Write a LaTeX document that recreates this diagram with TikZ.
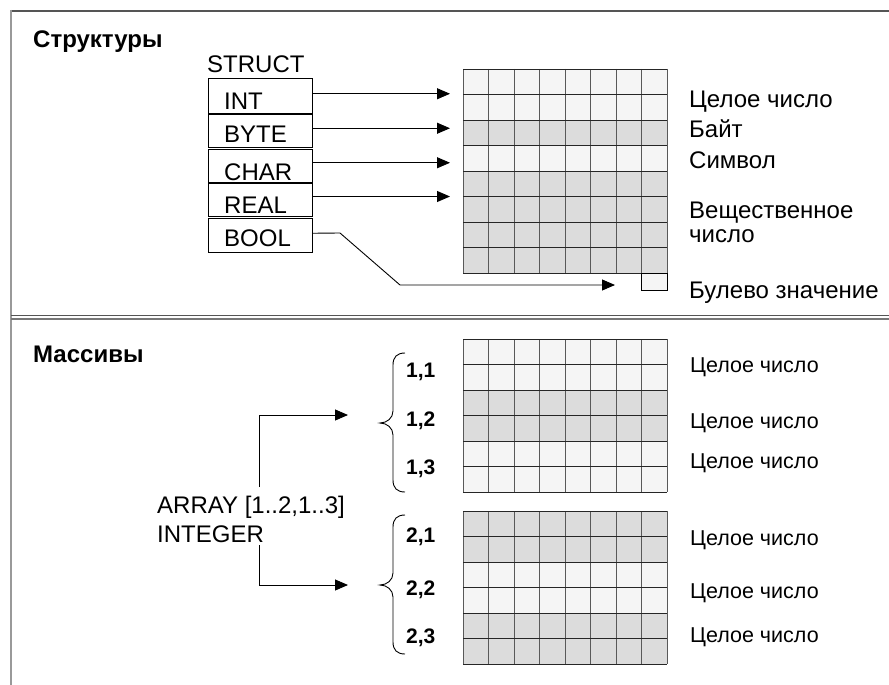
\documentclass[tikz,border=0pt]{standalone}
\usepackage{fontspec}
\setmainfont{Liberation Sans}
\usetikzlibrary{arrows.meta}
\definecolor{cl}{HTML}{F5F5F5}
\definecolor{cg}{HTML}{DCDCDC}
\definecolor{fr}{HTML}{555555}
\definecolor{fl}{HTML}{999999}
\begin{document}
\begin{tikzpicture}[x=1pt,y=-1pt,
  lbl/.style={anchor=base west, inner sep=0pt, font=\fontsize{24}{28}\selectfont},
  lbls/.style={anchor=base west, inner sep=0pt, font=\fontsize{21.5}{25}\selectfont},
  ttl/.style={anchor=base west, inner sep=0pt, font=\fontsize{24}{28}\selectfont\bfseries},
  idx/.style={anchor=base west, inner sep=0pt, font=\fontsize{21}{25}\selectfont\bfseries},
  fld/.style={draw, line width=1pt, minimum width=104pt, anchor=north west, inner sep=0pt, outer sep=0pt},
  arrow/.style={line width=0.9pt, -{Triangle[length=13pt,width=11pt]}},
  hl/.style={line width=0.9pt, color=black!85},
  vl/.style={line width=0.9pt, color=black!65},
]
\useasboundingbox (0,0) rectangle (889,685);
% frame
\draw[fr, line width=2pt] (10,11) -- (889,11);
\draw[fl, line width=2pt] (11,10) -- (11,685);
\draw[fr, line width=1.5pt] (11,315.5) -- (889,315.5);
\draw[fr!80, line width=1.3pt] (11,319) -- (889,319);

% titles
\node[ttl] (t1) at (33,48) {Структуры};
\node[ttl] (t2) at (33,362) {Массивы};

% struct
\node[lbl] (st) at (207,73) {STRUCT};
\node[fld, minimum height=34.5pt] (int)  at (208,79) {};
\node[fld, minimum height=32.5pt] (byte) at (208,114.5) {};
\node[fld, minimum height=32.5pt] (char) at (208,149.5) {};
\node[fld, minimum height=33pt]   (real) at (208,183) {};
\node[fld, minimum height=33.5pt] (bool) at (208,218.5) {};
\node[lbl] (tint)  at (224,110) {INT};
\node[lbl] (tbyte) at (224,142) {BYTE};
\node[lbl] (tchar) at (224,180) {CHAR};
\node[lbl] (treal) at (224,213) {REAL};
\node[lbl] (tbool) at (224,246) {BOOL};

% top grid
\foreach \c [count=\i from 0] in {cl,cl,cg,cl,cg,cg,cg,cg}
  \fill[\c] (463,{69+25.5*\i}) rectangle (667,{69+25.5*(\i+1)});
\foreach \i in {0,...,8} \draw[vl] ({463+25.5*\i},69) -- ({463+25.5*\i},273);
\foreach \j in {0,...,8} \draw[hl] (463,{69+25.5*\j}) -- (667,{69+25.5*\j});
\node[draw, line width=0.9pt, fill=cl, anchor=north west, minimum width=26pt, minimum height=17pt, inner sep=0pt] (bc) at (641,272.5) {};

\coordinate (tip) at (450,0);
\draw[arrow] ([yshift=2.5pt]int.east)  -- ([yshift=2.5pt]int.east -| tip);
\draw[arrow] ([yshift=2.5pt]byte.east) -- ([yshift=2.5pt]byte.east -| tip);
\draw[arrow] ([yshift=3pt]char.east) -- ([yshift=3pt]char.east -| tip);
\draw[arrow] ([yshift=3pt]real.east) -- ([yshift=3pt]real.east -| tip);
\coordinate (bk1) at (340,233);
\coordinate (bk2) at (400,285);
\coordinate (btip) at (615,285);
\draw[arrow] ([yshift=2pt]bool.east) -- (bk1) -- (bk2) -- (btip);

% top labels
\node[lbl] (l1) at (689,107) {Целое число};
\node[lbl] (l2) at (689,137) {Байт};
\node[lbl] (l3) at (689,168) {Символ};
\node[lbl] (l4) at (689,218) {Вещественное};
\node[lbl] (l5) at (689,242) {число};
\node[lbl] (l6) at (689,298) {Булево значение};

% bottom grids
\foreach \c [count=\i from 0] in {cl,cl,cg,cg,cl,cl}
  \fill[\c] (463,{339+25.5*\i}) rectangle (667,{339+25.5*(\i+1)});
\foreach \i in {0,...,8} \draw[vl] ({463+25.5*\i},339) -- ({463+25.5*\i},492);
\foreach \j in {0,...,6} \draw[hl] (463,{339+25.5*\j}) -- (667,{339+25.5*\j});
\foreach \c [count=\i from 0] in {cg,cg,cl,cl,cg,cg}
  \fill[\c] (463,{511+25.5*\i}) rectangle (667,{511+25.5*(\i+1)});
\foreach \i in {0,...,8} \draw[vl] ({463+25.5*\i},511) -- ({463+25.5*\i},664);
\foreach \j in {0,...,6} \draw[hl] (463,{511+25.5*\j}) -- (667,{511+25.5*\j});

% braces
\foreach \s in {0,162}{
  \draw[line width=0.9pt] (405,{353+\s}) .. controls (397,{353+\s}) and (393,{357+\s}) .. (393,{365+\s})
    -- (393,{411+\s}) .. controls (393,{418+\s}) and (387,{423+\s}) .. (380,{423+\s})
    .. controls (387,{423+\s}) and (393,{428+\s}) .. (393,{435+\s})
    -- (393,{480+\s}) .. controls (393,{488+\s}) and (397,{492+\s}) .. (405,{492+\s});
}

% indices
\node[idx] (i11) at (406,377) {1,1};
\node[idx] (i12) at (406,426) {1,2};
\node[idx] (i13) at (406,474) {1,3};
\node[idx] (i21) at (406,542) {2,1};
\node[idx] (i22) at (406,595) {2,2};
\node[idx] (i23) at (406,643) {2,3};

% array
\node[lbl] (a1) at (157,513) {ARRAY [1..2,1..3]};
\node[lbl] (a2) at (157,542) {INTEGER};
\coordinate (u0) at (259,487);
\coordinate (u1) at (348,415);
\coordinate (d0) at (259,545);
\coordinate (d1) at (348,585);
\draw[arrow] (u0) |- (u1);
\draw[arrow] (d0) |- (d1);

% bottom labels
\node[lbls] (b1) at (690,372) {Целое число};
\node[lbls] (b2) at (690,428) {Целое число};
\node[lbls] (b3) at (690,468) {Целое число};
\node[lbls] (b4) at (690,545) {Целое число};
\node[lbls] (b5) at (690,598) {Целое число};
\node[lbls] (b6) at (690,642) {Целое число};
\end{tikzpicture}
\end{document}
